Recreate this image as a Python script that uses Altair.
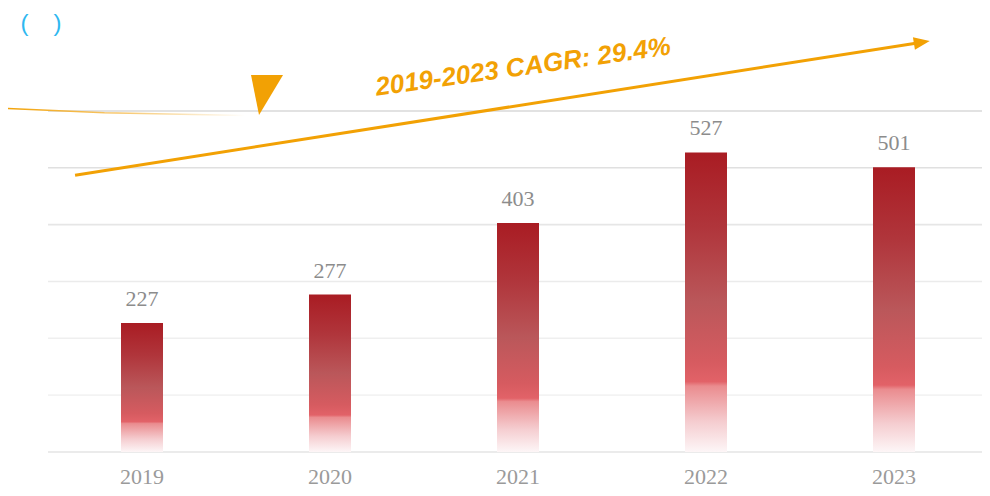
import altair as alt
import pandas as pd

years = ["2019", "2020", "2021", "2022", "2023"]
values = [227, 277, 403, 527, 501]
cagr_text = "2019-2023 CAGR: 29.4%"
grid_values = [0, 100, 200, 300, 400, 500, 600]
grid_colors = ["#e4e4e4", "#f3f3f3", "#efefef", "#ebebeb", "#e6e6e6", "#e0e0e0", "#d9d9d9"]

ORANGE = "#f2a104"

bars_df = pd.DataFrame({"year": years, "value": values})
grid_df = pd.DataFrame({"v": grid_values, "c": grid_colors})

bar_gradient = alt.Gradient(
    gradient="linear",
    x1=0, x2=0, y1=0, y2=1,
    stops=[
        alt.GradientStop(offset=0.0, color="#a91c23"),
        alt.GradientStop(offset=0.25, color="#b0353b"),
        alt.GradientStop(offset=0.5, color="#ba575a"),
        alt.GradientStop(offset=0.7, color="#d65b60"),
        alt.GradientStop(offset=0.765, color="#e26268"),
        alt.GradientStop(offset=0.78, color="#ea8c8f"),
        alt.GradientStop(offset=0.9, color="#f5cdd0"),
        alt.GradientStop(offset=1.0, color="#fdf6f7"),
    ],
)

yscale = alt.Scale(domain=[0, 767], nice=False)

grid = alt.Chart(grid_df).mark_rule(strokeWidth=1.6).encode(
    y=alt.Y("v:Q", scale=yscale, axis=None),
    x=alt.value(0), x2=alt.value(940),
    color=alt.Color("c:N", scale=None, legend=None),
)

x_enc = alt.X(
    "year:N",
    sort=years,
    scale=alt.Scale(paddingInner=0, paddingOuter=0, range=[0, 940]),
    axis=alt.Axis(
        title=None, labelAngle=0, ticks=False, domain=False, grid=False,
        labelFont="Liberation Serif", labelFontSize=22, labelColor="#9a9a9a",
        labelPadding=14,
    ),
)
y_enc = alt.Y("value:Q", scale=yscale, axis=None)

bars = alt.Chart(bars_df).mark_bar(size=42, color=bar_gradient).encode(x=x_enc, y=y_enc)
labels = alt.Chart(bars_df).mark_text(
    font="Liberation Serif", fontSize=22, color="#8c8c8c", baseline="alphabetic", dy=-17
).encode(x=alt.X("year:N", sort=years), y=y_enc, text="value:Q")

base = alt.layer(bars, labels)

# annotation layer on an independent band-index scale (0..5)
xq = alt.Scale(domain=[0, 5], nice=False, zero=False, range=[0, 940])

arrow_df = pd.DataFrame({"x": [0.144], "x2": [4.65], "y": [487], "y2": [721]})
arrow_line = alt.Chart(arrow_df).mark_rule(color=ORANGE, strokeWidth=3).encode(
    x=alt.X("x:Q", scale=xq, axis=None), x2="x2:Q",
    y=alt.Y("y:Q", scale=yscale, axis=None), y2="y2:Q",
)
head_df = pd.DataFrame({"x": [4.69], "y": [723]})
arrow_head = alt.Chart(head_df).mark_point(
    shape="M 0 0 L -2 -0.8 L -2 0.8 Z", filled=True, color=ORANGE, opacity=1,
    size=256, angle=351, strokeWidth=0,
).encode(x=alt.X("x:Q", scale=xq, axis=None), y=alt.Y("y:Q", scale=yscale, axis=None))

text_df = pd.DataFrame({"x": [2.527], "y": [677], "t": [cagr_text]})
cagr = alt.Chart(text_df).mark_text(
    font="Liberation Sans", fontSize=26, fontWeight="bold", fontStyle="italic",
    color=ORANGE, angle=352, align="center", baseline="middle",
).encode(x=alt.X("x:Q", scale=xq, axis=None), y=alt.Y("y:Q", scale=yscale, axis=None), text="t:N")

tri_df = pd.DataFrame({"x": [1.165], "y": [628]})
triangle = alt.Chart(tri_df).mark_point(
    shape="M -1 -1.25 L 1 -1.25 L -0.5 1.25 Z", filled=True, color=ORANGE, opacity=1,
    size=1024, strokeWidth=0,
).encode(x=alt.X("x:Q", scale=xq, axis=None), y=alt.Y("y:Q", scale=yscale, axis=None))

fade_df = pd.DataFrame({"x": [-0.255, 0.3, 1.05], "y": [605, 597, 592]})
fade_line = alt.Chart(fade_df).mark_line(
    strokeWidth=1.5,
    stroke=alt.Gradient(
        gradient="linear", x1=0, x2=1, y1=0, y2=0,
        stops=[
            alt.GradientStop(offset=0.0, color=ORANGE),
            alt.GradientStop(offset=0.5, color="#f7c870"),
            alt.GradientStop(offset=1.0, color="#ffffff"),
        ],
    ),
).encode(x=alt.X("x:Q", scale=xq, axis=None), y=alt.Y("y:Q", scale=yscale, axis=None))

paren_df = pd.DataFrame({"x": [-0.125, 0.05], "y": [753, 753], "t": ["(", ")"]})
parens = alt.Chart(paren_df).mark_text(
    font="Liberation Sans", fontSize=24, color="#2fb8f0", align="center", baseline="middle"
).encode(x=alt.X("x:Q", scale=xq, axis=None), y=alt.Y("y:Q", scale=yscale, axis=None), text="t:N")

annot = alt.layer(fade_line, arrow_line, arrow_head, cagr, triangle, parens)

chart = (
    alt.layer(grid, base, annot)
    .resolve_scale(x="independent")
    .properties(
        width=934, height=436,
        autosize=alt.AutoSizeParams(type="none"),
        padding={"left": 40, "top": 8, "right": 0, "bottom": 37},
    )
    .configure_view(stroke=None)
)

chart.save("out.html", embed_options={"renderer": "svg", "actions": False})
